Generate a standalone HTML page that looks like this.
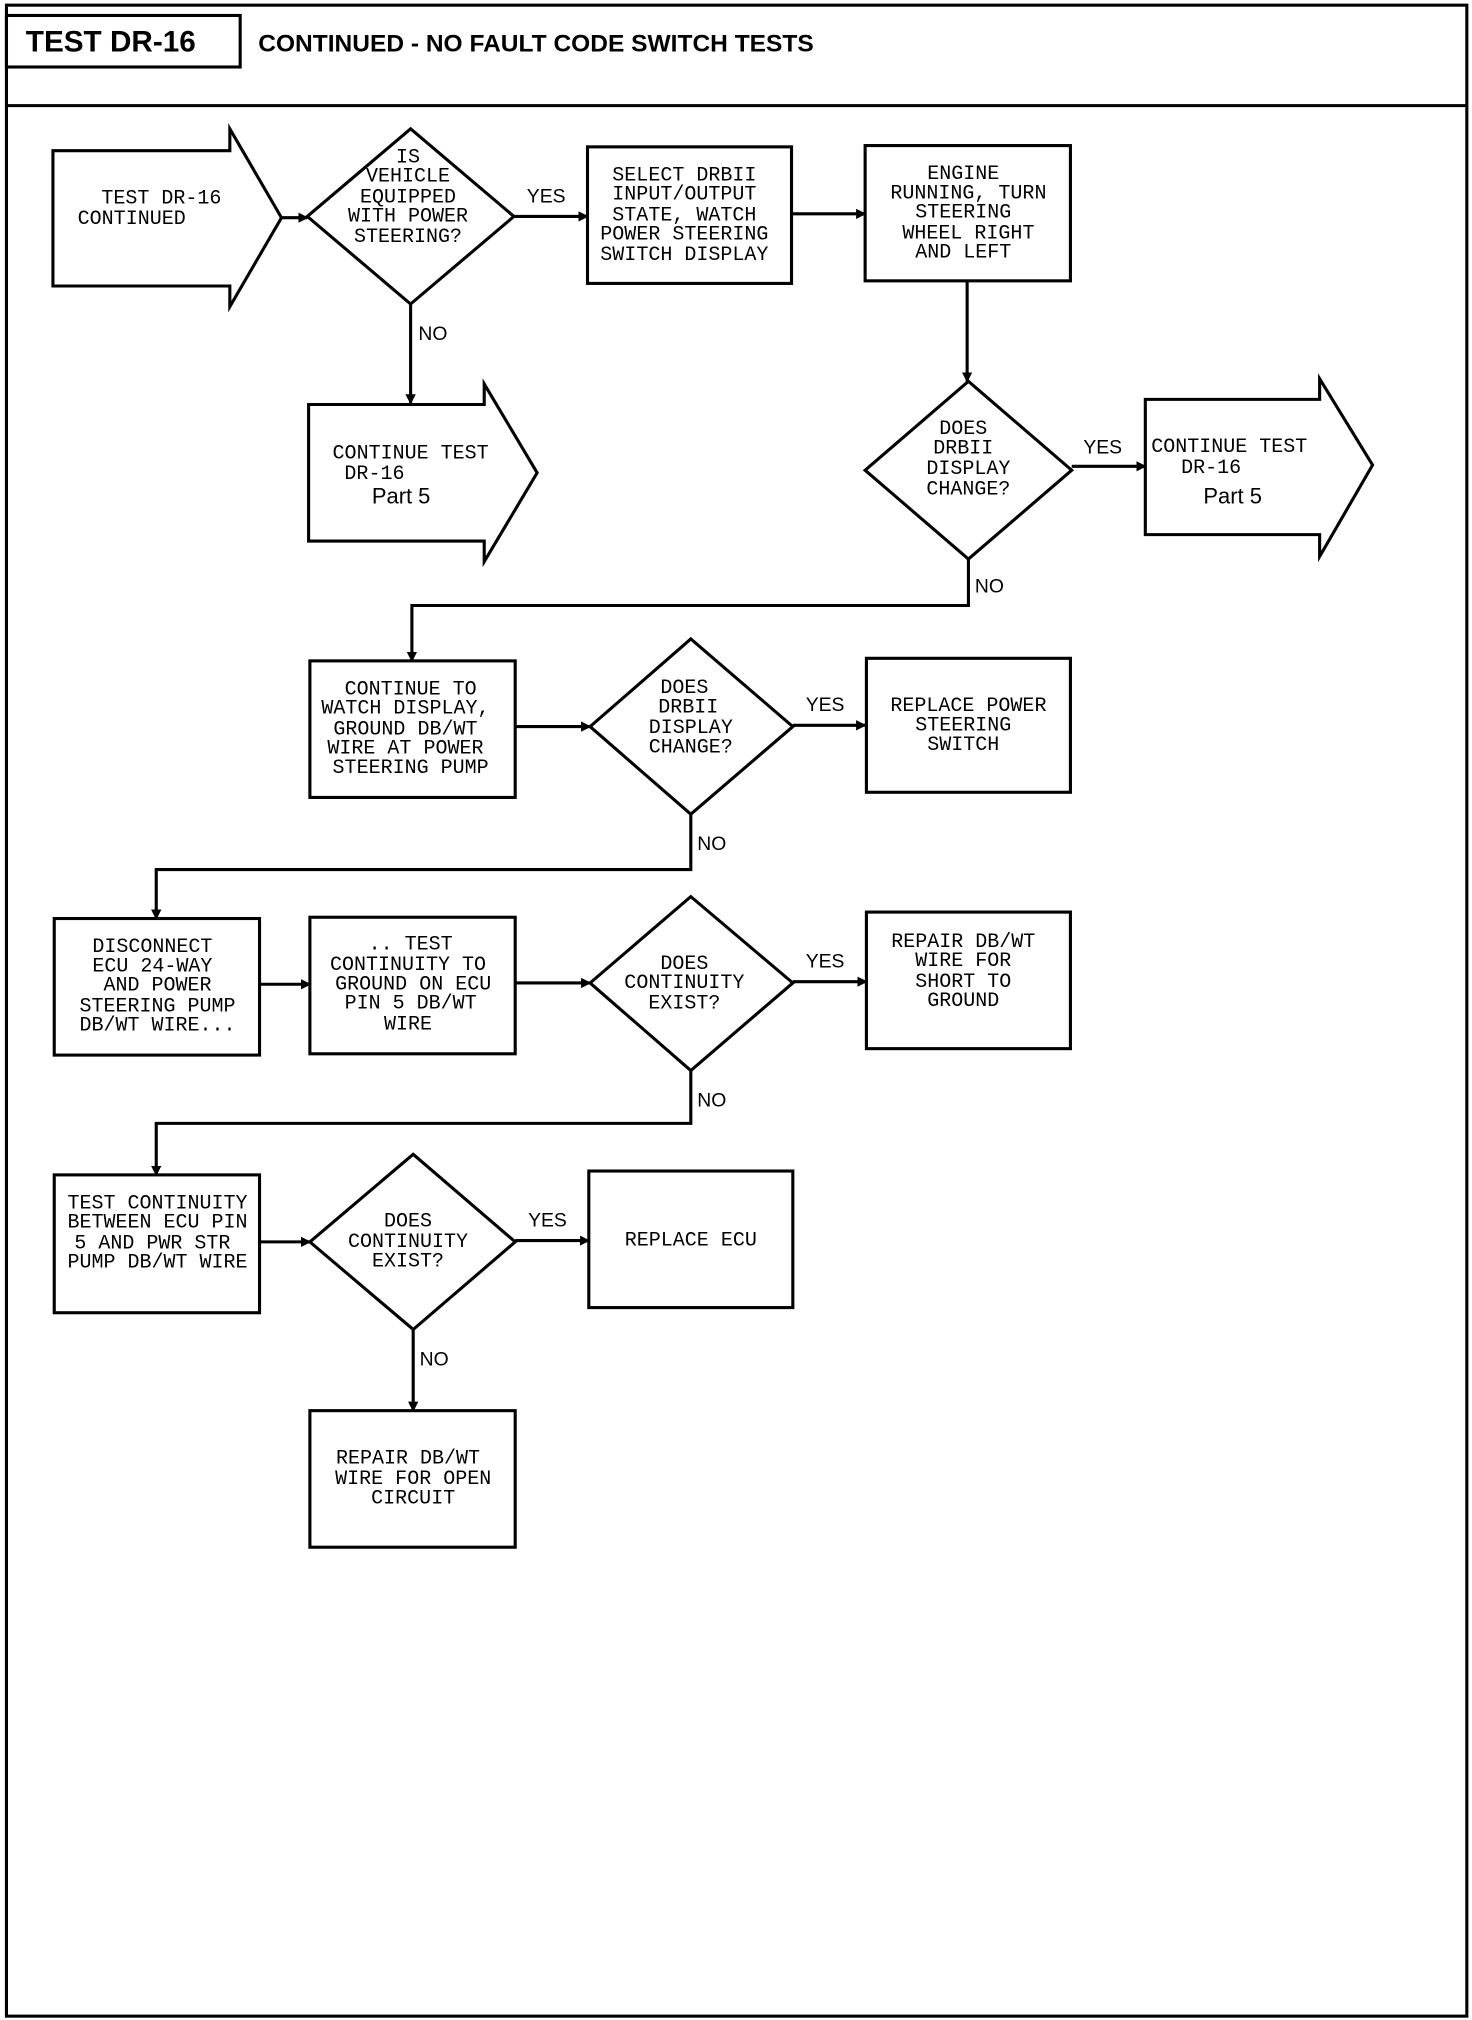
<!DOCTYPE html>
<html><head><meta charset="utf-8"><style>
html,body{margin:0;padding:0;background:#fff;}
svg{display:block;}
.t{font-family:"Liberation Mono",monospace;font-size:15.5px;fill:#000;text-anchor:middle;}
.l{font-family:"Liberation Sans",sans-serif;font-size:15px;fill:#000;}
.s{fill:none;stroke:#000;stroke-width:2.4;}
</style></head><body>
<svg width="1472" height="2020" viewBox="0 0 1140 1568" preserveAspectRatio="none" xmlns="http://www.w3.org/2000/svg">
<defs><marker id="a" markerWidth="8" markerHeight="8" refX="7" refY="4" orient="auto" markerUnits="userSpaceOnUse"><path d="M0,0 L8,4 L0,8 z" fill="#000"/></marker></defs>
<rect x="5" y="4" width="1131" height="1561" class="s"/>
<rect x="5" y="12" width="181" height="40" class="s"/>
<line x1="5" y1="82" x2="1136" y2="82" class="s"/>
<text x="20" y="40" style="font-family:'Liberation Sans',sans-serif;font-weight:bold;font-size:23px">TEST DR-16</text>
<text x="200" y="40" style="font-family:'Liberation Sans',sans-serif;font-weight:bold;font-size:19px">CONTINUED - NO FAULT CODE SWITCH TESTS</text>

<!-- start arrow -->
<path d="M41,117 H178 V100 L218,169 L178,238 V222 H41 Z" class="s"/>
<text class="t" x="125" y="158">TEST DR-16</text><text class="t" x="102" y="174">CONTINUED</text>
<line x1="218" y1="169" x2="238" y2="169" class="s" marker-end="url(#a)"/>

<!-- diamond 1 -->
<path d="M318,100 L398,168 L318,236 L238,168 Z" class="s"/>
<text class="t" x="316" y="126">IS</text><text class="t" x="316" y="141">VEHICLE</text><text class="t" x="316" y="157">EQUIPPED</text><text class="t" x="316" y="172">WITH POWER</text><text class="t" x="316" y="188">STEERING?</text>
<text class="l" x="408" y="157">YES</text>
<line x1="398" y1="168" x2="455" y2="168" class="s" marker-end="url(#a)"/>

<rect x="455" y="114" width="158" height="106" class="s"/>
<text class="t" x="530" y="140">SELECT DRBII</text><text class="t" x="530" y="155">INPUT/OUTPUT</text><text class="t" x="530" y="171">STATE, WATCH</text><text class="t" x="530" y="186">POWER STEERING</text><text class="t" x="530" y="202">SWITCH DISPLAY</text>
<line x1="613" y1="166" x2="670" y2="166" class="s" marker-end="url(#a)"/>

<rect x="670" y="113" width="159" height="105" class="s"/>
<text class="t" x="746" y="139">ENGINE</text><text class="t" x="750" y="154">RUNNING, TURN</text><text class="t" x="746" y="169">STEERING</text><text class="t" x="750" y="185">WHEEL RIGHT</text><text class="t" x="746" y="200">AND LEFT</text>
<line x1="749" y1="218" x2="749" y2="296" class="s" marker-end="url(#a)"/>

<!-- diamond 2 -->
<path d="M750,296 L830,365 L750,434 L670,365 Z" class="s"/>
<text class="t" x="746" y="337">DOES</text><text class="t" x="746" y="352">DRBII</text><text class="t" x="750" y="368">DISPLAY</text><text class="t" x="750" y="384">CHANGE?</text>
<text class="l" x="839" y="352">YES</text>
<line x1="830" y1="362" x2="887" y2="362" class="s" marker-end="url(#a)"/>
<path d="M887,310 H1022 V294 L1063,361 L1022,432 V415 H887 Z" class="s"/>
<text class="t" x="952" y="351">CONTINUE TEST</text><text class="t" x="938" y="367">DR-16</text>
<text class="l" x="932" y="391" style="font-size:17px">Part 5</text>

<!-- NO branch 1 -->
<line x1="318" y1="236" x2="318" y2="313" class="s" marker-end="url(#a)"/>
<text class="l" x="324" y="264">NO</text>
<path d="M239,314 H375 V298 L416,367 L375,436 V420 H239 Z" class="s"/>
<text class="t" x="318" y="356">CONTINUE TEST</text><text class="t" x="290" y="372">DR-16</text>
<text class="l" x="288" y="391" style="font-size:17px">Part 5</text>

<!-- NO branch 2 -->
<text class="l" x="755" y="460">NO</text>
<path d="M750,434 V470 H319 V513" class="s" marker-end="url(#a)"/>
<rect x="240" y="513" width="159" height="106" class="s"/>
<text class="t" x="318" y="539">CONTINUE TO</text><text class="t" x="314" y="554">WATCH DISPLAY,</text><text class="t" x="314" y="570">GROUND DB/WT</text><text class="t" x="314" y="585">WIRE AT POWER</text><text class="t" x="318" y="600">STEERING PUMP</text>
<line x1="399" y1="564" x2="457" y2="564" class="s" marker-end="url(#a)"/>
<path d="M535,496 L614,564 L535,632 L457,564 Z" class="s"/>
<text class="t" x="530" y="538">DOES</text><text class="t" x="533" y="553">DRBII</text><text class="t" x="535" y="569">DISPLAY</text><text class="t" x="535" y="584">CHANGE?</text>
<text class="l" x="624" y="552">YES</text>
<line x1="614" y1="563" x2="670" y2="563" class="s" marker-end="url(#a)"/>
<rect x="671" y="511" width="158" height="104" class="s"/>
<text class="t" x="750" y="552">REPLACE POWER</text><text class="t" x="746" y="567">STEERING</text><text class="t" x="746" y="582">SWITCH</text>

<!-- NO branch 3 -->
<text class="l" x="540" y="660">NO</text>
<path d="M535,632 V675 H121 V713" class="s" marker-end="url(#a)"/>
<rect x="42" y="713" width="159" height="106" class="s"/>
<text class="t" x="118" y="739">DISCONNECT</text><text class="t" x="118" y="754">ECU 24-WAY</text><text class="t" x="122" y="769">AND POWER</text><text class="t" x="122" y="785">STEERING PUMP</text><text class="t" x="122" y="800">DB/WT WIRE...</text>
<line x1="201" y1="764" x2="240" y2="764" class="s" marker-end="url(#a)"/>
<rect x="240" y="712" width="159" height="106" class="s"/>
<text class="t" x="318" y="737">.. TEST</text><text class="t" x="316" y="753">CONTINUITY TO</text><text class="t" x="320" y="768">GROUND ON ECU</text><text class="t" x="318" y="783">PIN 5 DB/WT</text><text class="t" x="316" y="799">WIRE</text>
<line x1="399" y1="763" x2="457" y2="763" class="s" marker-end="url(#a)"/>
<path d="M535,696 L614,763 L535,831 L457,763 Z" class="s"/>
<text class="t" x="530" y="752">DOES</text><text class="t" x="530" y="767">CONTINUITY</text><text class="t" x="530" y="783">EXIST?</text>
<text class="l" x="624" y="751">YES</text>
<line x1="614" y1="762" x2="671" y2="762" class="s" marker-end="url(#a)"/>
<rect x="671" y="708" width="158" height="106" class="s"/>
<text class="t" x="746" y="735">REPAIR DB/WT</text><text class="t" x="746" y="750">WIRE FOR</text><text class="t" x="746" y="766">SHORT TO</text><text class="t" x="746" y="781">GROUND</text>

<!-- NO branch 4 -->
<text class="l" x="540" y="859">NO</text>
<path d="M535,831 V872 H121 V912" class="s" marker-end="url(#a)"/>
<rect x="42" y="912" width="159" height="107" class="s"/>
<text class="t" x="122" y="938">TEST CONTINUITY</text><text class="t" x="122" y="953">BETWEEN ECU PIN</text><text class="t" x="118" y="969">5 AND PWR STR</text><text class="t" x="122" y="984">PUMP DB/WT WIRE</text>
<line x1="201" y1="964" x2="240" y2="964" class="s" marker-end="url(#a)"/>
<path d="M320,896 L399,964 L320,1032 L240,964 Z" class="s"/>
<text class="t" x="316" y="952">DOES</text><text class="t" x="316" y="968">CONTINUITY</text><text class="t" x="316" y="983">EXIST?</text>
<text class="l" x="409" y="952">YES</text>
<line x1="399" y1="963" x2="456" y2="963" class="s" marker-end="url(#a)"/>
<rect x="456" y="909" width="158" height="106" class="s"/>
<text class="t" x="535" y="967">REPLACE ECU</text>
<text class="l" x="325" y="1060">NO</text>
<line x1="320" y1="1032" x2="320" y2="1095" class="s" marker-end="url(#a)"/>
<rect x="240" y="1095" width="159" height="106" class="s"/>
<text class="t" x="316" y="1136">REPAIR DB/WT</text><text class="t" x="320" y="1152">WIRE FOR OPEN</text><text class="t" x="320" y="1167">CIRCUIT</text>
</svg>
</body></html>
